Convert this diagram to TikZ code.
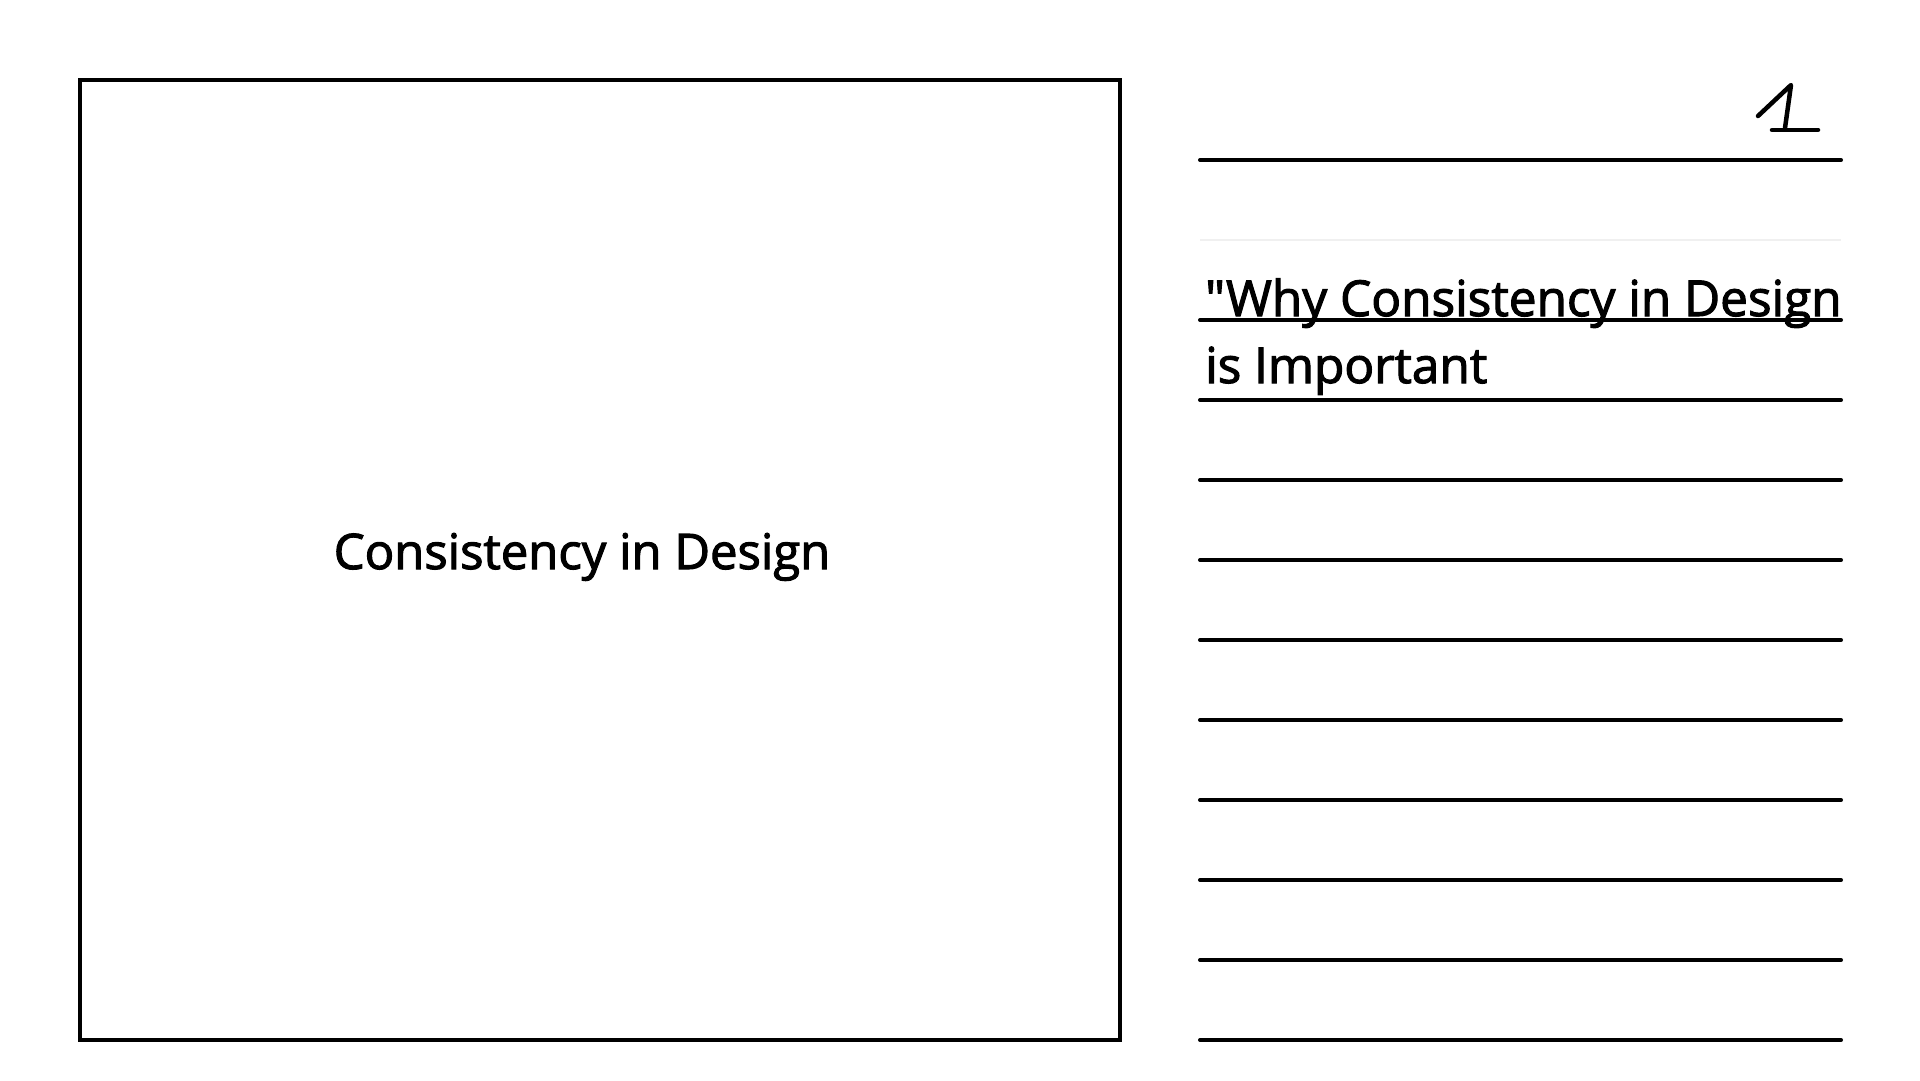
\documentclass[tikz,border=0pt]{standalone}
\usepackage{fontspec}
\setmainfont{Open Sans}[FakeBold=2.2,Ligatures=TeXOff]
\begin{document}
\begin{tikzpicture}[x=1pt,y=-1pt,
  frame/.style={draw=black,line width=4.5pt},
  rule/.style={draw=black,line width=4pt,line cap=round},
  faint/.style={draw=black!6,line width=2pt},
  pen/.style={draw=black,line width=4.5pt,line cap=round,line join=round},
  bigtxt/.style={font=\fontsize{49}{58}\selectfont,inner sep=0pt},
  sidetxt/.style={font=\fontsize{49.5}{58}\selectfont,inner sep=0pt,anchor=base west}]
\path[use as bounding box] (0,0) rectangle (1920,1080);
\fill[white] (0,0) rectangle (1920,1080);
% left panel
\draw[frame] (80,80) rectangle (1120,1040);
\node[bigtxt,anchor=base] (title) at (582,569) {Consistency in Design};
% ruled lines
\draw[rule] (1200,160) -- (1841,160);
\draw[faint] (1200,240) -- (1841,240);
\foreach \y in {320,400,...,1040} {\draw[rule] (1200,\y) -- (1841,\y);}
% handwritten 1
\draw[pen] (1758,116) -- (1791,85) -- (1785,128);
\draw[pen] (1772,130) -- (1818,130);
% side text
\node[sidetxt] (l1) at (1205,316) {"Why Consistency in Design};
\node[sidetxt] (l2) at (1205,383) {is Important};
\end{tikzpicture}
\end{document}
